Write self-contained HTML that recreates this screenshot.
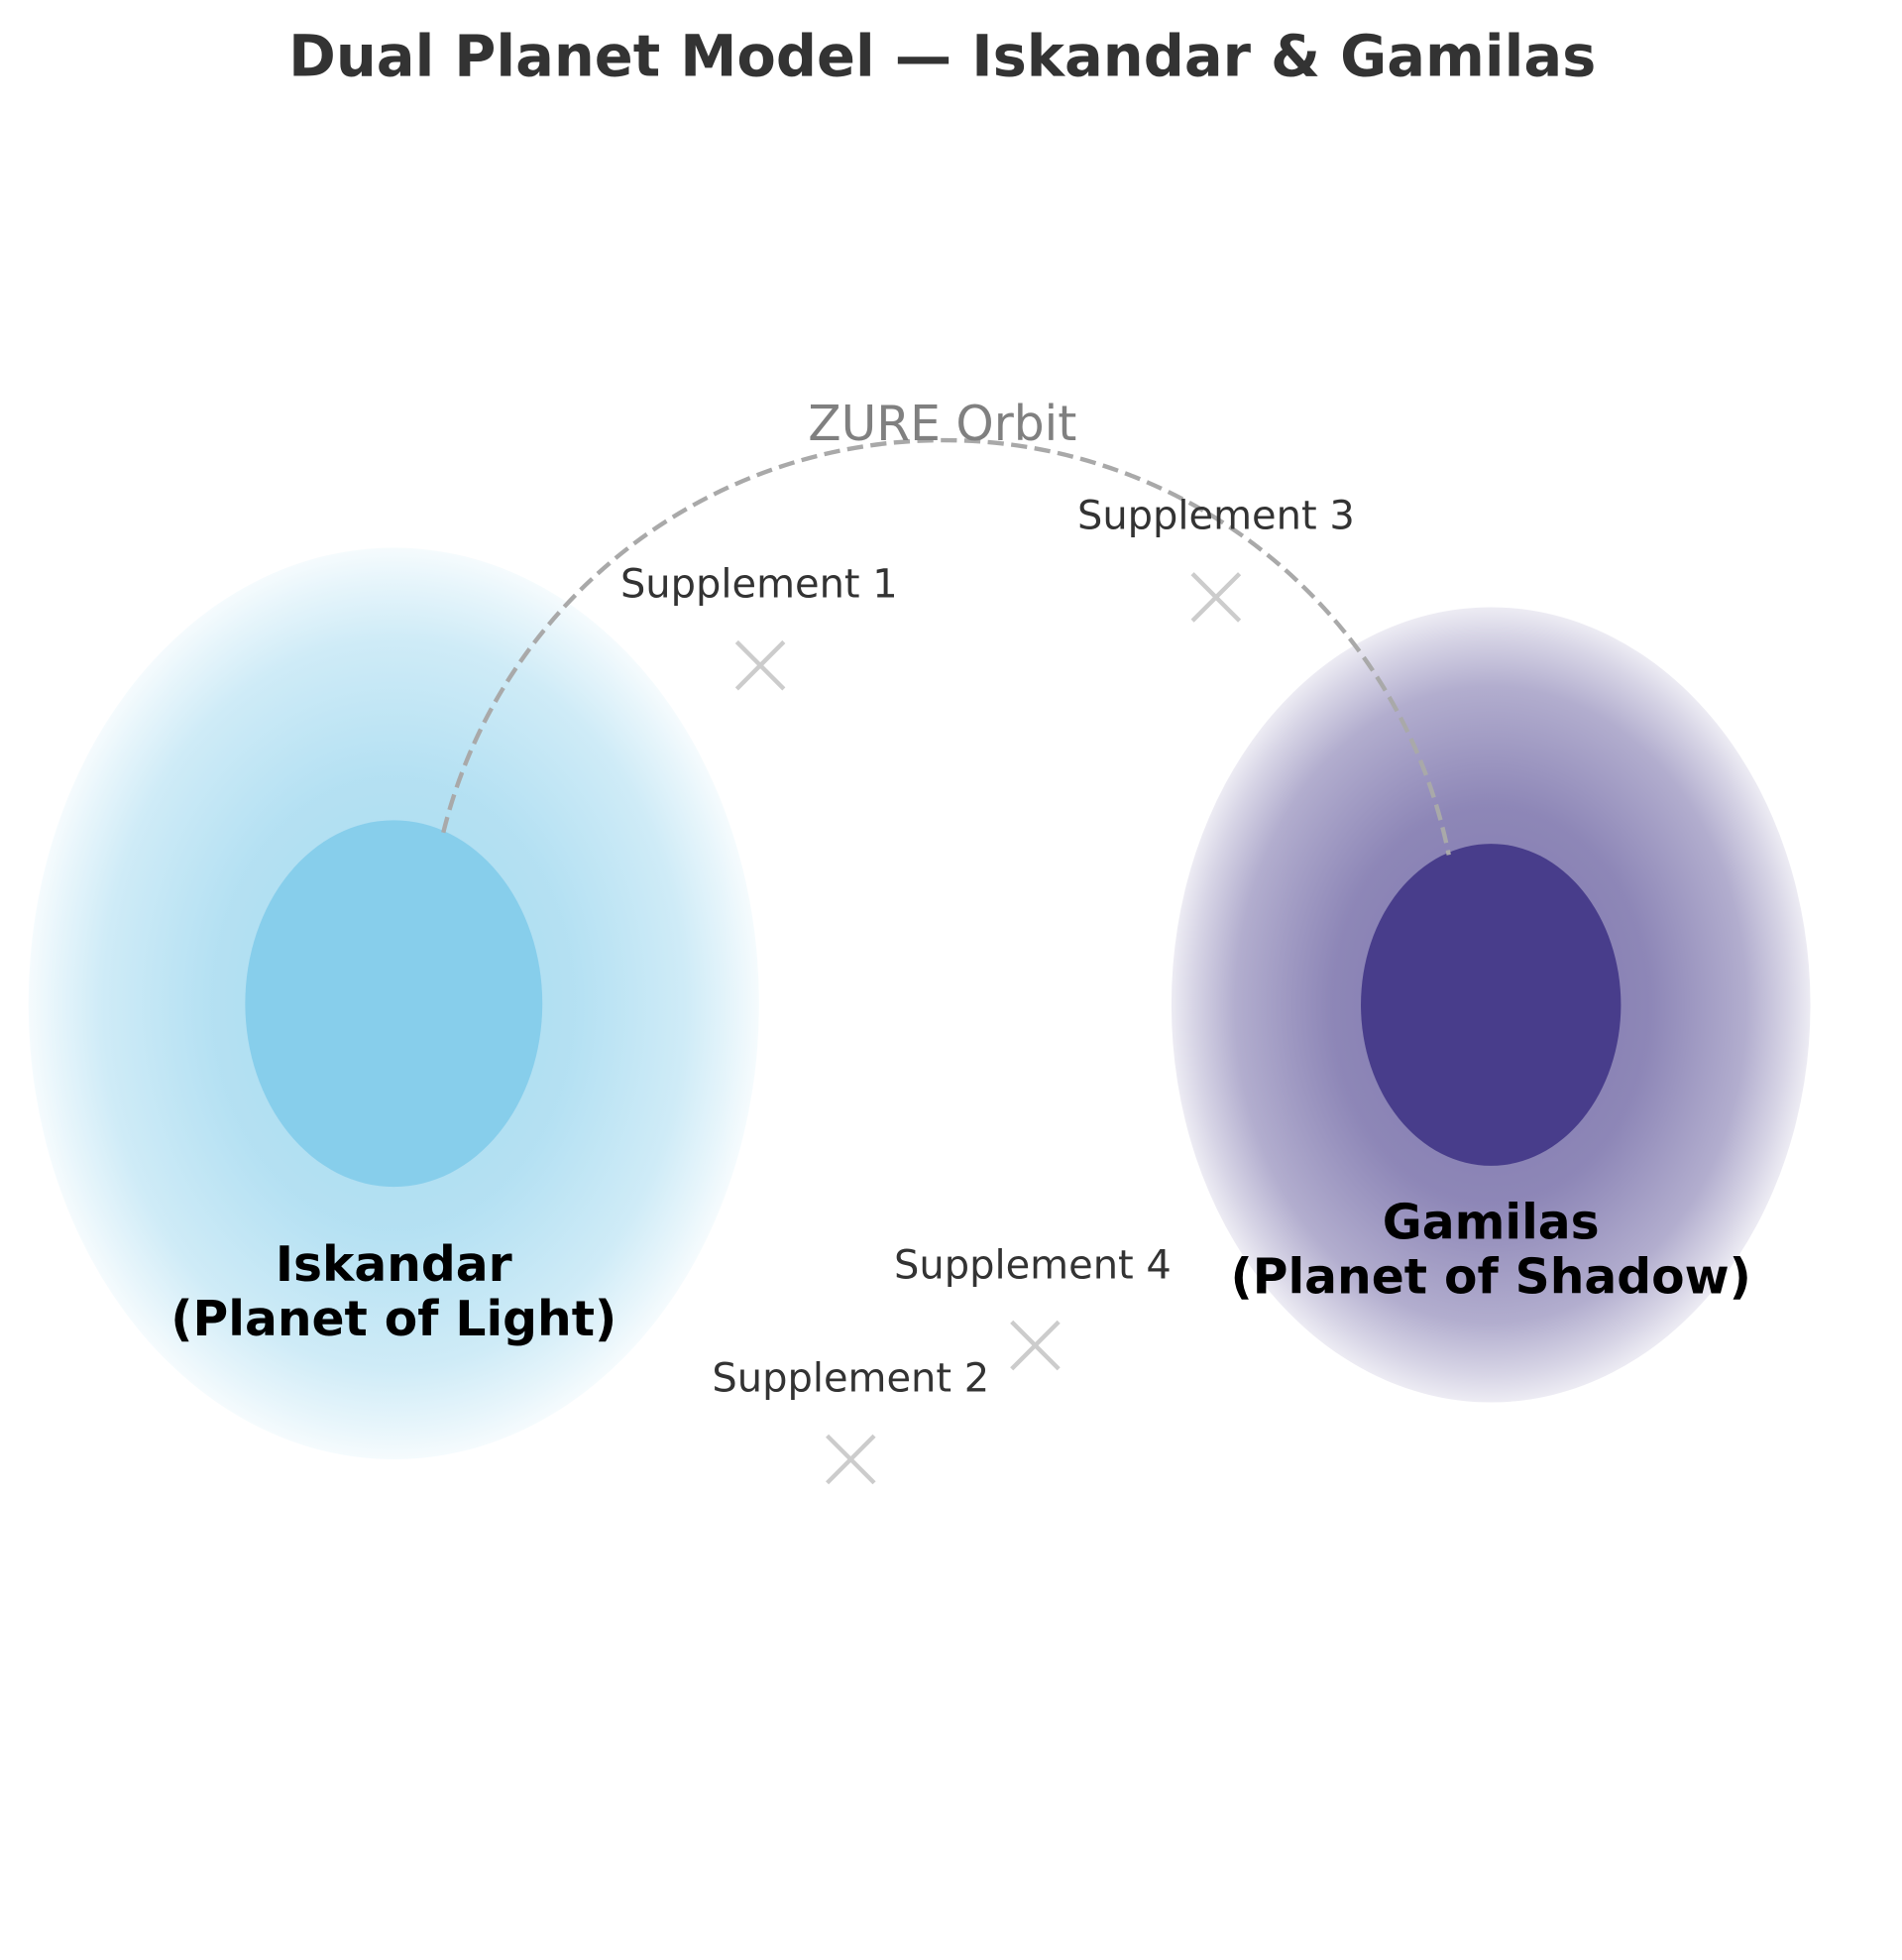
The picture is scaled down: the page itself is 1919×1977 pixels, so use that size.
<!DOCTYPE html>
<html><head><meta charset="utf-8"><style>
html,body{margin:0;padding:0;background:#fff;}
svg{display:block;}
</style></head><body>
<svg width="1919" height="1977" viewBox="0 0 1536 1582" xmlns="http://www.w3.org/2000/svg">
<defs>
<radialGradient id="gi">
<stop offset="0" stop-color="#87CEEB" stop-opacity="0.75"/>
<stop offset="0.5" stop-color="#87CEEB" stop-opacity="0.62"/>
<stop offset="0.8" stop-color="#87CEEB" stop-opacity="0.4"/>
<stop offset="0.93" stop-color="#87CEEB" stop-opacity="0.2"/>
<stop offset="1" stop-color="#87CEEB" stop-opacity="0.08"/>
</radialGradient>
<radialGradient id="gg">
<stop offset="0" stop-color="#483D8B" stop-opacity="0.7"/>
<stop offset="0.5" stop-color="#483D8B" stop-opacity="0.62"/>
<stop offset="0.8" stop-color="#483D8B" stop-opacity="0.42"/>
<stop offset="0.93" stop-color="#483D8B" stop-opacity="0.22"/>
<stop offset="1" stop-color="#483D8B" stop-opacity="0.1"/>
</radialGradient>
</defs>
<rect width="1536" height="1582" fill="#fff"/>
<text x="761" y="61" text-anchor="middle" font-family="DejaVu Sans, Liberation Sans, sans-serif" font-weight="bold" font-size="46" fill="#333">Dual Planet Model — Iskandar &amp; Gamilas</text>

<ellipse cx="318" cy="810" rx="295" ry="368" fill="url(#gi)"/>
<ellipse cx="318" cy="810" rx="120" ry="148" fill="#87CEEB"/>
<ellipse cx="1204" cy="811" rx="258" ry="321" fill="url(#gg)"/>
<ellipse cx="1204" cy="811" rx="105" ry="130" fill="#483D8B"/>

<path d="M358,672 A416,416 0 0 1 1170,690" fill="none" stroke="#a9a9a9" stroke-width="3.5" stroke-dasharray="13,6"/>
<text x="761" y="355" text-anchor="middle" font-family="DejaVu Sans, Liberation Sans, sans-serif" font-size="39" fill="#808080">ZURE Orbit</text>

<g stroke="#cccccc" stroke-width="3.5">
<path d="M595,518 L633,556 M633,518 L595,556"/>
<path d="M668,1159 L706,1197 M706,1159 L668,1197"/>
<path d="M963,463 L1001,501 M1001,463 L963,501"/>
<path d="M817,1067 L855,1105 M855,1067 L817,1105"/>
</g>
<g font-family="DejaVu Sans, Liberation Sans, sans-serif" font-size="32" fill="#333" text-anchor="middle">
<text x="613" y="482">Supplement 1</text>
<text x="687" y="1123">Supplement 2</text>
<text x="982" y="427">Supplement 3</text>
<text x="834" y="1032">Supplement 4</text>
</g>
<g font-family="DejaVu Sans, Liberation Sans, sans-serif" font-size="39" font-weight="bold" fill="#000" text-anchor="middle">
<text x="318" y="1034">Iskandar</text>
<text x="318" y="1078">(Planet of Light)</text>
<text x="1204" y="1000">Gamilas</text>
<text x="1204" y="1044">(Planet of Shadow)</text>
</g>
</svg>
</body></html>
